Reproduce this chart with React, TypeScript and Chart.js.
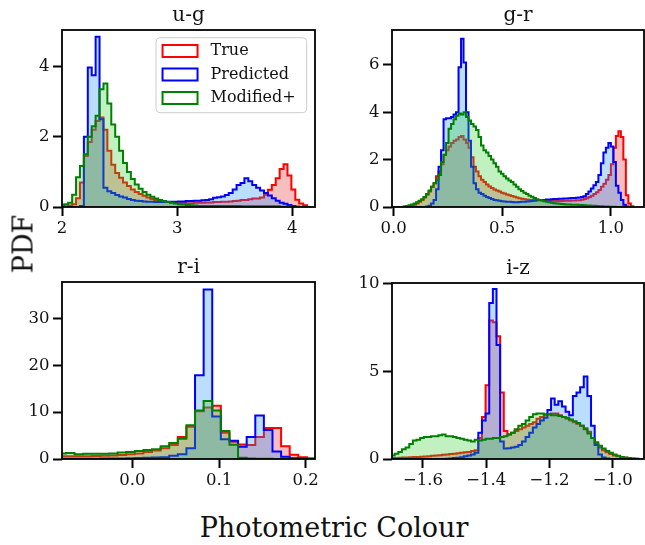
import { useEffect, useRef } from 'react';
import Chart from 'chart.js/auto';

const FONT = '"DejaVu Serif", "Liberation Serif", serif';
const TEXT = '#111111';

const seriesNames = ['True', 'Predicted', 'Modified+'];
const lineColors = ['#ff0000', '#0000ff', '#008000'];
const fillColors = ['rgba(225,40,40,0.3)', 'rgba(30,144,255,0.3)', 'rgba(50,205,50,0.3)'];

// ---------- u-g ----------
const ugBinStart = 1.986;
const ugBinWidth = 0.034;
const ugTrue = [
  0.01, 0.02, 0.04, 0.08, 0.25, 0.7, 1.45, 1.85, 2.2, 2.45,
  2.55, 2.2, 1.6, 1.2, 0.97, 0.83, 0.7, 0.6, 0.5, 0.43,
  0.37, 0.32, 0.27, 0.23, 0.2, 0.17, 0.15, 0.14, 0.13, 0.12,
  0.12, 0.12, 0.11, 0.11, 0.12, 0.12, 0.12, 0.13, 0.13, 0.14,
  0.14, 0.15, 0.15, 0.16, 0.17, 0.18, 0.2, 0.2, 0.22, 0.24,
  0.24, 0.27, 0.35, 0.49, 0.63, 0.82, 1.08, 1.22, 0.9, 0.5,
  0.21, 0.1, 0.05, 0.0,
];
const ugPredicted = [
  0, 0, 0, 0, 0, 0.03, 2.0, 3.97, 3.75, 4.85,
  2.5, 0.55, 0.45, 0.4, 0.34, 0.3, 0.27, 0.23, 0.2, 0.18,
  0.17, 0.16, 0.15, 0.15, 0.14, 0.14, 0.14, 0.15, 0.15, 0.15,
  0.16, 0.16, 0.17, 0.17, 0.18, 0.18, 0.19, 0.2, 0.22, 0.26,
  0.28, 0.3, 0.34, 0.4, 0.5, 0.63, 0.68, 0.82, 0.73, 0.63,
  0.55, 0.47, 0.4, 0.33, 0.25, 0.18, 0.12, 0.09, 0.06, 0.03,
  0.01, 0, 0, 0,
];
const ugModified = [
  0.06, 0.08, 0.12, 0.35, 0.85, 1.17, 1.5, 2.0, 2.3, 2.6,
  3.35, 3.52, 2.95, 2.35, 2.0, 1.6, 1.25, 1.0, 0.8, 0.64,
  0.52, 0.43, 0.35, 0.29, 0.24, 0.2, 0.17, 0.14, 0.12, 0.1,
  0.08, 0.07, 0.06, 0.05, 0.04, 0.03, 0.03, 0.03, 0.03, 0.03,
  0.03, 0.03, 0.03, 0.03, 0.03, 0.03, 0.02, 0.02, 0.02, 0.02,
  0.02, 0.02, 0.02, 0.02, 0.02, 0.02, 0.01, 0.01, 0.01, 0.01,
  0.01, 0, 0, 0,
];
const ugXTicks = [2, 3, 4];
const ugXTickLabels = ['2', '3', '4'];
const ugYTicks = [0, 2, 4];
const ugYTickLabels = ['0', '2', '4'];

// ---------- g-r ----------
const grBinStart = 0.0;
const grBinWidth = 0.0115;
const grTrue = [
  0, 0, 0, 0, 0.01, 0.02, 0.04, 0.07, 0.1, 0.15,
  0.22, 0.3, 0.4, 0.52, 0.65, 0.85, 1.0, 1.3, 1.5, 1.8,
  2.2, 2.4, 2.55, 2.7, 2.8, 2.85, 2.95, 3.0, 2.85, 2.7,
  2.5, 2.1, 1.7, 1.5, 1.3, 1.15, 1.05, 0.95, 0.87, 0.8,
  0.74, 0.7, 0.65, 0.6, 0.57, 0.53, 0.5, 0.46, 0.43, 0.4,
  0.37, 0.35, 0.33, 0.32, 0.31, 0.3, 0.3, 0.29, 0.28, 0.28,
  0.27, 0.27, 0.26, 0.26, 0.26, 0.25, 0.25, 0.25, 0.26, 0.26,
  0.26, 0.27, 0.27, 0.28, 0.29, 0.31, 0.34, 0.37, 0.42, 0.48,
  0.55, 0.62, 0.72, 0.85, 0.98, 1.15, 1.35, 1.8, 2.5, 3.0,
  3.2, 2.95, 2.0, 0.5, 0.15, 0.03,
];
const grPredicted = [
  0, 0, 0, 0, 0, 0, 0, 0, 0, 0,
  0, 0, 0, 0.02, 0.05, 0.15, 0.3, 0.75, 1.7, 2.4,
  3.7, 3.75, 3.75, 3.8, 3.9, 4.0, 5.9, 7.1, 6.1, 4.0,
  2.8, 1.7, 1.0, 0.75, 0.6, 0.55, 0.48, 0.42, 0.38, 0.34,
  0.3, 0.28, 0.26, 0.24, 0.23, 0.22, 0.22, 0.21, 0.2, 0.2,
  0.21, 0.22, 0.22, 0.23, 0.24, 0.25, 0.26, 0.28, 0.3, 0.3,
  0.3, 0.32, 0.32, 0.33, 0.34, 0.34, 0.35, 0.35, 0.36, 0.36,
  0.37, 0.38, 0.38, 0.39, 0.4, 0.42, 0.45, 0.55, 0.65, 0.78,
  0.92, 1.05, 1.35, 1.85, 2.3, 2.5, 2.7, 2.55, 1.9, 0.9,
  0.6, 0.3, 0.1, 0.02, 0, 0,
];
const grModified = [
  0, 0, 0, 0, 0.02, 0.04, 0.07, 0.11, 0.15, 0.2,
  0.26, 0.33, 0.42, 0.55, 0.7, 0.85, 1.0, 1.15, 1.35, 1.9,
  2.2, 2.7, 3.3, 3.5, 3.7, 3.85, 3.95, 3.9, 4.0, 3.8,
  3.65, 3.5, 3.4, 3.25, 2.95, 2.6, 2.4, 2.3, 2.15, 2.0,
  1.85, 1.7, 1.5, 1.4, 1.3, 1.2, 1.12, 1.05, 0.95, 0.85,
  0.75, 0.68, 0.6, 0.55, 0.48, 0.43, 0.38, 0.33, 0.3, 0.27,
  0.24, 0.22, 0.2, 0.18, 0.16, 0.15, 0.14, 0.13, 0.12, 0.11,
  0.11, 0.1, 0.1, 0.09, 0.08, 0.08, 0.07, 0.06, 0.06, 0.05,
  0.05, 0.04, 0.03, 0.03, 0.02, 0.02, 0.01, 0.01, 0.01, 0,
  0, 0, 0, 0, 0, 0,
];
const grXTicks = [0, 0.5, 1.0];
const grXTickLabels = ['0.0', '0.5', '1.0'];
const grYTicks = [0, 2, 4, 6];
const grYTickLabels = ['0', '2', '4', '6'];

// ---------- r-i ----------
const riBinStart = -0.0868;
const riBinWidth = 0.00994;
const riTrue = [
  0.6, 0.6, 0.6, 0.6, 0.65, 0.7, 0.75, 0.85, 1.0, 1.2,
  1.5, 1.8, 2.3, 3.0, 4.7, 6.9, 10.2, 11.0, 11.35, 5.6,
  3.7, 3.1, 3.0, 4.7, 6.6, 6.6, 2.7, 0.9, 0.4, 0.15,
];
const riPredicted = [
  0.05, 0.05, 0.05, 0.05, 0.08, 0.1, 0.1, 0.12, 0.15, 0.2,
  0.25, 0.3, 0.4, 0.7, 1.0, 2.3, 17.9, 36.2, 9.1, 4.2,
  3.9, 2.6, 4.7, 9.3, 6.2, 1.6, 0.5, 0.15, 0.05, 0,
];
const riModified = [
  1.2, 1.3, 1.0, 1.1, 1.1, 1.1, 1.2, 1.4, 1.5, 1.7,
  1.9, 2.1, 2.7, 3.4, 4.3, 7.2, 10.35, 12.4, 10.35, 6.0,
  3.05, 0.25, 0.1, 0.05, 0.05, 0.02, 0.02, 0.01, 0.01, 0,
];
const riXTicks = [0.0, 0.1, 0.2];
const riXTickLabels = ['0.0', '0.1', '0.2'];
const riYTicks = [0, 10, 20, 30];
const riYTickLabels = ['0', '10', '20', '30'];

// ---------- i-z ----------
const izBinStart = -1.701;
const izBinWidth = 0.0115;
const izTrue = [
  0.05, 0.06, 0.07, 0.08, 0.09, 0.1, 0.11, 0.12, 0.13, 0.14,
  0.16, 0.18, 0.2, 0.22, 0.24, 0.26, 0.28, 0.3, 0.33, 0.35,
  0.38, 0.4, 0.45, 0.5, 1.2, 2.4, 4.2, 7.9, 7.8, 7.0,
  3.8, 1.6, 1.4, 1.5, 1.6, 1.7, 1.8, 1.9, 2.0, 2.1,
  2.3, 2.4, 2.5, 2.55, 2.6, 2.6, 2.5, 2.4, 2.3, 2.2,
  2.1, 2.0, 1.9, 1.75, 1.55, 1.2, 0.85, 0.65, 0.5, 0.38,
  0.28, 0.2, 0.15, 0.1, 0.07, 0.05, 0.03, 0.01,
];
const izPredicted = [
  0, 0, 0, 0, 0, 0, 0, 0, 0, 0,
  0, 0, 0, 0, 0, 0.02, 0.03, 0.05, 0.07, 0.1,
  0.15, 0.2, 0.25, 0.35, 1.5, 2.2, 2.6, 8.9, 9.7, 6.5,
  1.0, 0.6, 0.62, 0.65, 0.7, 0.8, 1.0, 1.25, 1.5, 1.8,
  2.0, 2.2, 2.35, 2.8, 3.45, 3.1, 3.3, 3.0, 2.7, 2.5,
  3.6, 3.8, 4.1, 4.7, 3.6, 1.9, 0.8, 0.25, 0.08, 0.03,
  0, 0, 0, 0, 0, 0, 0, 0,
];
const izModified = [
  0.2, 0.3, 0.4, 0.55, 0.65, 0.85, 1.05, 1.1, 1.2, 1.25,
  1.25, 1.3, 1.3, 1.35, 1.4, 1.3, 1.3, 1.25, 1.2, 1.15,
  1.1, 1.05, 1.0, 1.1, 1.05, 1.1, 1.15, 1.15, 1.2, 1.2,
  1.25, 1.3, 1.4, 1.5, 1.7, 1.9, 2.0, 2.2, 2.4, 2.55,
  2.6, 2.6, 2.55, 2.55, 2.5, 2.5, 2.45, 2.4, 2.35, 2.25,
  2.15, 2.05, 1.9, 1.7, 1.45, 1.2, 0.95, 0.75, 0.6, 0.45,
  0.35, 0.25, 0.18, 0.12, 0.08, 0.05, 0.03, 0.01,
];
const izXTicks = [-1.6, -1.4, -1.2, -1.0];
const izXTickLabels = ['\u22121.6', '\u22121.4', '\u22121.2', '\u22121.0'];
const izYTicks = [0, 5, 10];
const izYTickLabels = ['0', '5', '10'];

// ---------- layout ----------
const Y_AXIS_W = 62;
const X_AXIS_H = 43;
const PAD_TOP = 30;
const PAD_RIGHT = 16;

type Area = { left: number; top: number; right: number; bottom: number };
type PanelSpec = {
  title: string;
  binStart: number;
  binWidth: number;
  series: number[][];
  xMin: number;
  xMax: number;
  yMax: number;
  xTicks: number[];
  xTickLabels: string[];
  yTicks: number[];
  yTickLabels: string[];
  legend: boolean;
  area: Area;
};

const panels: PanelSpec[] = [
  {
    title: 'u-g', binStart: ugBinStart, binWidth: ugBinWidth,
    series: [ugTrue, ugPredicted, ugModified],
    xMin: 2.0, xMax: 4.197, yMax: 5.04,
    xTicks: ugXTicks, xTickLabels: ugXTickLabels, yTicks: ugYTicks, yTickLabels: ugYTickLabels,
    legend: true, area: { left: 62, top: 30, right: 315, bottom: 207 },
  },
  {
    title: 'g-r', binStart: grBinStart, binWidth: grBinWidth,
    series: [grTrue, grPredicted, grModified],
    xMin: -0.0074, xMax: 1.153, yMax: 7.47,
    xTicks: grXTicks, xTickLabels: grXTickLabels, yTicks: grYTicks, yTickLabels: grYTickLabels,
    legend: false, area: { left: 392, top: 30, right: 644, bottom: 207 },
  },
  {
    title: 'r-i', binStart: riBinStart, binWidth: riBinWidth,
    series: [riTrue, riPredicted, riModified],
    xMin: -0.0814, xMax: 0.2108, yMax: 37.8,
    xTicks: riXTicks, xTickLabels: riXTickLabels, yTicks: riYTicks, yTickLabels: riYTickLabels,
    legend: false, area: { left: 62, top: 282, right: 315, bottom: 459 },
  },
  {
    title: 'i-z', binStart: izBinStart, binWidth: izBinWidth,
    series: [izTrue, izPredicted, izModified],
    xMin: -1.698, xMax: -0.901, yMax: 10.04,
    xTicks: izXTicks, xTickLabels: izXTickLabels, yTicks: izYTicks, yTickLabels: izYTickLabels,
    legend: false, area: { left: 392, top: 283, right: 644, bottom: 459 },
  },
];

function stepPoints(start: number, width: number, values: number[]) {
  const pts: { x: number; y: number }[] = [{ x: start, y: 0 }];
  values.forEach((v, i) => pts.push({ x: start + i * width, y: v }));
  pts.push({ x: start + values.length * width, y: 0 });
  return pts;
}

const decorPlugin = {
  id: 'panelDecor',
  afterDraw(chart: any, _args: any, opts: any) {
    const { ctx, chartArea: a } = chart;
    ctx.save();
    // spines
    ctx.strokeStyle = '#000';
    ctx.lineWidth = 1.8;
    ctx.strokeRect(a.left, a.top, a.right - a.left, a.bottom - a.top);
    // title
    ctx.fillStyle = TEXT;
    ctx.font = `20px ${FONT}`;
    ctx.textAlign = 'center';
    ctx.textBaseline = 'alphabetic';
    ctx.fillText(opts.title, (a.left + a.right) / 2, a.top - 9);
    // legend
    if (opts.legend) {
      ctx.font = `16px ${FONT}`;
      const tw = Math.max(...seriesNames.map((n) => ctx.measureText(n).width));
      const boxW = 6.5 + 35 + 13 + tw + 11;
      const boxH = 75;
      const boxRight = a.right - 8.3;
      const boxTop = a.top + 7.7;
      const boxLeft = boxRight - boxW;
      ctx.beginPath();
      if (ctx.roundRect) ctx.roundRect(boxLeft, boxTop, boxW, boxH, 4);
      else ctx.rect(boxLeft, boxTop, boxW, boxH);
      ctx.fillStyle = 'rgba(255,255,255,0.85)';
      ctx.fill();
      ctx.strokeStyle = '#cccccc';
      ctx.lineWidth = 1;
      ctx.stroke();
      seriesNames.forEach((name, i) => {
        const cy = boxTop + 13.3 + i * 23.5;
        ctx.strokeStyle = lineColors[i];
        ctx.lineWidth = 2;
        ctx.strokeRect(boxLeft + 6.5, cy - 6, 35, 12);
        ctx.fillStyle = TEXT;
        ctx.textAlign = 'left';
        ctx.textBaseline = 'middle';
        ctx.fillText(name, boxLeft + 54.5, cy);
      });
    }
    ctx.restore();
  },
};

function Panel({ spec }: { spec: PanelSpec }) {
  const ref = useRef<HTMLCanvasElement>(null);
  const { area } = spec;
  const width = Y_AXIS_W + (area.right - area.left) + PAD_RIGHT;
  const height = PAD_TOP + (area.bottom - area.top) + X_AXIS_H;
  const left = area.left - Y_AXIS_W;
  const top = area.top - PAD_TOP;

  useEffect(() => {
    const canvas = ref.current;
    if (!canvas) return;
    const tickFont = { family: FONT, size: 16.5 };
    const chart = new Chart(canvas, {
      type: 'line',
      data: {
        datasets: spec.series.map((vals, i) => ({
          label: seriesNames[i],
          data: stepPoints(spec.binStart, spec.binWidth, vals),
          borderColor: lineColors[i],
          backgroundColor: fillColors[i],
          borderWidth: 2,
          fill: 'origin',
          stepped: true,
          pointRadius: 0,
          pointHoverRadius: 0,
          tension: 0,
          clip: 0,
          order: 2 - i,
        })),
      },
      options: {
        animation: false,
        responsive: false,
        devicePixelRatio: 1,
        events: [],
        layout: { padding: { left: 0, right: PAD_RIGHT, top: PAD_TOP, bottom: 0 } },
        plugins: {
          legend: { display: false },
          tooltip: { enabled: false },
          title: { display: false },
          panelDecor: { title: spec.title, legend: spec.legend },
        } as any,
        scales: {
          x: {
            type: 'linear',
            min: spec.xMin,
            max: spec.xMax,
            bounds: 'data',
            afterBuildTicks: (s: any) => {
              s.ticks = spec.xTicks.map((v) => ({ value: v }));
            },
            afterFit: (s: any) => {
              s.height = X_AXIS_H;
            },
            grid: {
              display: true,
              drawOnChartArea: false,
              drawTicks: true,
              tickLength: 9,
              tickWidth: 2,
              tickColor: '#000',
            },
            border: { display: false },
            ticks: {
              autoSkip: false,
              maxRotation: 0,
              minRotation: 0,
              padding: 3,
              color: TEXT,
              font: tickFont,
              callback: (_v: any, i: number) => spec.xTickLabels[i],
            },
          },
          y: {
            type: 'linear',
            min: 0,
            max: spec.yMax,
            bounds: 'data',
            afterBuildTicks: (s: any) => {
              s.ticks = spec.yTicks.map((v) => ({ value: v }));
            },
            afterFit: (s: any) => {
              s.width = Y_AXIS_W;
            },
            grid: {
              display: true,
              drawOnChartArea: false,
              drawTicks: true,
              tickLength: 9,
              tickWidth: 2,
              tickColor: '#000',
            },
            border: { display: false },
            ticks: {
              autoSkip: false,
              padding: 3.5,
              color: TEXT,
              font: tickFont,
              callback: (_v: any, i: number) => spec.yTickLabels[i],
            },
          },
        },
      } as any,
      plugins: [decorPlugin as any],
    });
    return () => chart.destroy();
  }, [spec]);

  return (
    <canvas
      ref={ref}
      width={width}
      height={height}
      style={{ position: 'absolute', left, top, width, height }}
    />
  );
}

export default function App() {
  return (
    <div
      style={{
        position: 'absolute',
        left: 0,
        top: 0,
        width: 645,
        height: 545,
        overflow: 'hidden',
        background: '#ffffff',
      }}
    >
      {panels.map((p) => (
        <Panel key={p.title} spec={p} />
      ))}
      <div
        style={{
          position: 'absolute',
          left: 22.5,
          top: 244,
          transform: 'translate(-50%, -50%) rotate(-90deg)',
          fontFamily: FONT,
          fontSize: 27,
          lineHeight: 1,
          color: TEXT,
          whiteSpace: 'nowrap',
        }}
      >
        PDF
      </div>
      <div
        style={{
          position: 'absolute',
          left: 334,
          top: 527,
          transform: 'translate(-50%, -50%)',
          fontFamily: FONT,
          fontSize: 27,
          lineHeight: 1,
          color: TEXT,
          whiteSpace: 'nowrap',
        }}
      >
        Photometric Colour
      </div>
    </div>
  );
}
